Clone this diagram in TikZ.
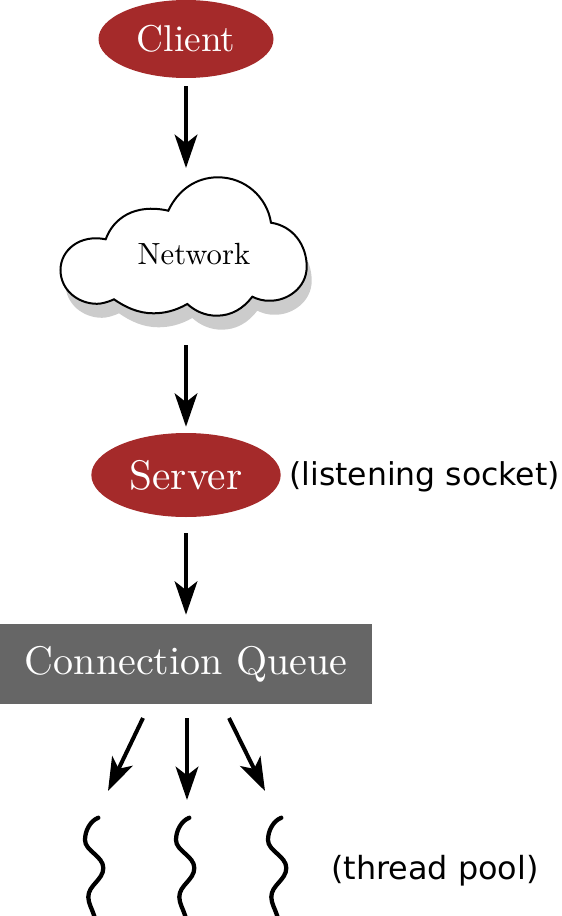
\documentclass[tikz,border=0pt]{standalone}
\usepackage{fontspec}
\usetikzlibrary{arrows.meta,shapes.geometric}
\newfontfamily\labelfont{DejaVu Sans}
\definecolor{nodered}{HTML}{A52A2A}
\definecolor{queuegray}{HTML}{666666}
\definecolor{shadowgray}{gray}{0.8}
\newcommand{\serifat}[2]{\scalebox{#1}{\fontsize{10}{12}\selectfont #2}}
\newcommand{\cloudpath}{
  (105.7,239.3) .. controls (113,219) and (134,203) .. (168.3,210.7)
  .. controls (178,190) and (196,177.3) .. (218,177.3)
  .. controls (245,177.3) and (267,197) .. (271,222.7)
  .. controls (293,226) and (306.7,245) .. (306.7,266.7)
  .. controls (306.7,288) and (287,301) .. (270,300.7)
  .. controls (263,301) and (257,299) .. (252.3,296.7)
  .. controls (243,309) and (231,315.7) .. (216.7,315.7)
  .. controls (205,315.7) and (195,311) .. (187.3,304)
  .. controls (175,311) and (164,313.3) .. (153.3,313.3)
  .. controls (138,313.3) and (125,307) .. (114,299.3)
  .. controls (107,302.5) and (101,303.8) .. (97,303.8)
  .. controls (78,303.8) and (60.5,290) .. (60.5,270)
  .. controls (60.5,250) and (80,234) .. (105.7,239.3) -- cycle
}
\tikzset{
  x=0.75pt,y=-0.75pt,
  rednode/.style={ellipse,fill=nodered,text=white,inner sep=0pt},
  flow/.style={-{Stealth[length=25pt,width=17pt,inset=6.5pt]},line width=3pt},
  thread/.style={line width=3.2pt,line cap=round},
  sidelabel/.style={font=\labelfont\fontsize{#1}{28}\selectfont,inner sep=0pt,anchor=west},
}
\begin{document}
\begin{tikzpicture}
\useasboundingbox (0,0) rectangle (561,916);
% cloud
\fill[shadowgray,shift={(5,14)}] \cloudpath;
\draw[fill=white,line width=1.5pt] \cloudpath;
\node[inner sep=0pt] (network) at (194,254) {\serifat{2.3}{Network}};
\coordinate (cloudtop) at (186,177);
\coordinate (cloudbot) at (186,308);
% nodes
\node[rednode,minimum width=131.25pt,minimum height=58.5pt] (client) at (186,39) {\serifat{2.8}{Client}};
\node[rednode,minimum width=142pt,minimum height=63pt] (server) at (186,475) {\serifat{3.1}{Server}};
\node[sidelabel=23.6] (listen) at (289,477) {(listening socket)};
\node[fill=queuegray,text=white,minimum width=279pt,minimum height=60pt,inner sep=0pt] (queue) at (186,664) {\serifat{3.0}{Connection Queue}};
\node[sidelabel=23.9] (pool) at (331,871) {(thread pool)};
% threads
\foreach \dx/\nm in {0/ta,91/tb,183/tc}{
  \coordinate (\nm) at (98.3+\dx,817.7);
  \draw[thread] (\nm) .. controls (90+\dx,821) and (85+\dx,831) .. (85+\dx,840)
    .. controls (85+\dx,851) and (103.3+\dx,856) .. (103.3+\dx,868)
    .. controls (103.3+\dx,880) and (88.3+\dx,885) .. (88.3+\dx,897)
    .. controls (88.3+\dx,903) and (92+\dx,909) .. (94.3+\dx,916);
}
\coordinate (qa) at (143,718);
\coordinate (qb) at (187,718);
\coordinate (qc) at (229,718);
\coordinate (ea) at (108,791);
\coordinate (eb) at (187,800);
\coordinate (ec) at (265,791);
% connectors
\draw[flow,shorten <=6pt,shorten >=6.75pt] (client.south) -- (cloudtop);
\draw[flow,shorten <=27.75pt,shorten >=4.5pt] (cloudbot) -- (server.north);
\draw[flow,shorten <=12pt,shorten >=6.75pt] (server.south) -- (queue.north);
\draw[flow] (qa) -- (ea);
\draw[flow] (qb) -- (eb);
\draw[flow] (qc) -- (ec);
\end{tikzpicture}
\end{document}
